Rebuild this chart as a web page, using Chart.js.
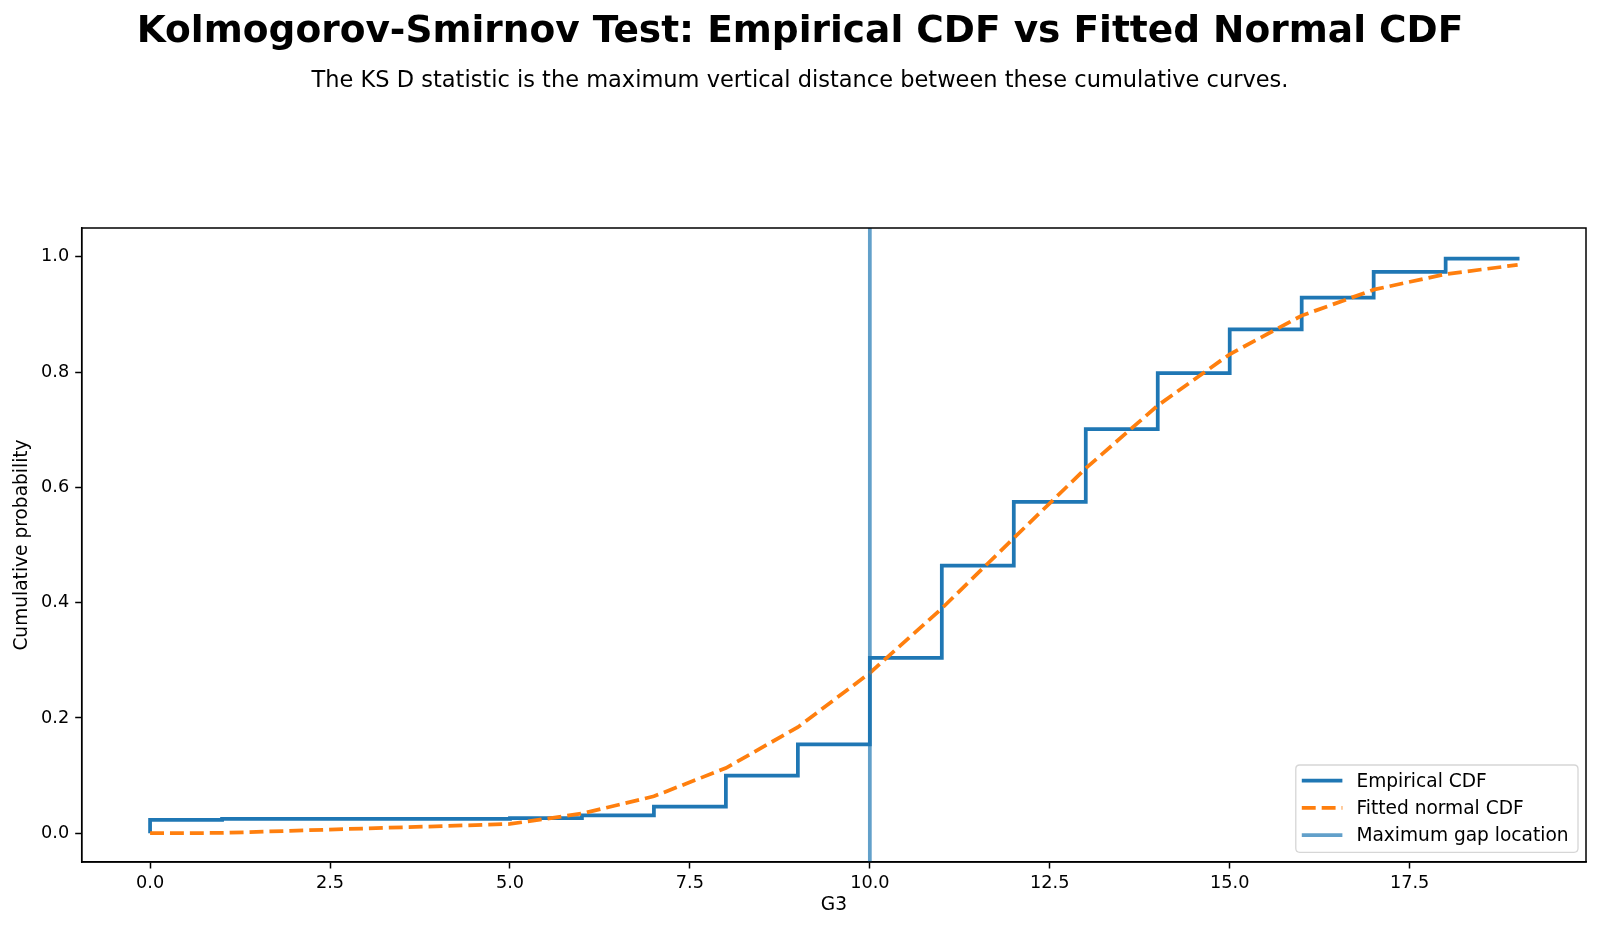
<!DOCTYPE html>
<html>
<head>
<meta charset="utf-8">
<script src="https://cdn.jsdelivr.net/npm/chart.js@4.4.1/dist/chart.umd.min.js"></script>
<style>
  html, body { margin: 0; padding: 0; background: #ffffff; }
  #wrap { width: 1600px; height: 932px; position: relative; }
</style>
</head>
<body>
<div id="wrap"><canvas id="c" width="1600" height="932"></canvas></div>
<script>
// ---- Data ----
const titleText = "Kolmogorov-Smirnov Test: Empirical CDF vs Fitted Normal CDF";
const subtitleText = "The KS D statistic is the maximum vertical distance between these cumulative curves.";

// Empirical CDF (step, post)
const ecdfX = [0, 0, 1, 5, 6, 7, 8, 9, 10, 11, 12, 13, 14, 15, 16, 17, 18, 19];
const ecdfY = [0.0, 0.023, 0.025, 0.026, 0.031, 0.046, 0.100, 0.154, 0.304, 0.464, 0.575, 0.701, 0.798, 0.874, 0.929, 0.974, 0.997, 1.0];

// Fitted normal CDF evaluated at observed grade values
const normX = [0, 1, 5, 6, 7, 8, 9, 10, 11, 12, 13, 14, 15, 16, 17, 18, 19];
const normY = [0.000, 0.0004, 0.016, 0.034, 0.064, 0.113, 0.184, 0.278, 0.390, 0.512, 0.633, 0.742, 0.831, 0.898, 0.943, 0.970, 0.986];

// Location of maximum gap
const gapX = 10;

// Axes
const xTicks = [0, 2.5, 5, 7.5, 10, 12.5, 15, 17.5];
const yTicks = [0, 0.2, 0.4, 0.6, 0.8, 1.0];
const xLimits = [-0.95, 19.95];
const yLimits = [-0.05, 1.05];

const seriesLabels = ["Empirical CDF", "Fitted normal CDF", "Maximum gap location"];
const xLabel = "G3";
const yLabel = "Cumulative probability";

// ---- Styles ----
const FONT = "'DejaVu Sans', 'Liberation Sans', sans-serif";
const BLUE = "#1f77b4";
const ORANGE = "#ff7f0e";
const GAPCOL = "rgba(31,119,180,0.7)";
const LW = 3.75;

const ecdfData = ecdfX.map((x, i) => ({ x: x, y: ecdfY[i] }));
const normData = normX.map((x, i) => ({ x: x, y: normY[i] }));
const gapData = [{ x: gapX, y: yLimits[0] }, { x: gapX, y: yLimits[1] }];

const titlePlugin = {
  id: 'figTitles',
  afterDraw(chart) {
    const ctx = chart.ctx;
    ctx.save();
    ctx.fillStyle = '#000';
    ctx.textAlign = 'center';
    ctx.textBaseline = 'alphabetic';
    ctx.font = "bold 37.5px " + FONT;
    ctx.fillText(titleText, 800, 42.3);
    ctx.font = "22.5px " + FONT;
    ctx.fillText(subtitleText, 800, 87.3);
    ctx.restore();
  }
};

const framePlugin = {
  id: 'frame',
  afterDraw(chart) {
    const a = chart.chartArea;
    const ctx = chart.ctx;
    ctx.save();
    ctx.strokeStyle = '#000';
    ctx.lineWidth = 1.5;
    ctx.strokeRect(a.left, a.top, a.right - a.left, a.bottom - a.top);
    ctx.restore();
  }
};

const legendPlugin = {
  id: 'mplLegend',
  afterDraw(chart) {
    const ctx = chart.ctx;
    const ds = chart.data.datasets;
    const a = chart.chartArea;
    ctx.save();
    ctx.font = "18.6px " + FONT;
    let maxW = 0;
    ds.forEach(d => { maxW = Math.max(maxW, ctx.measureText(d.label).width); });
    const rowH = 27.2;
    const boxW = 60.6 + maxW + 9.4;
    const boxH = 87.3;
    const x0 = a.right - 8 - boxW;
    const y0 = a.bottom - 9.7 - boxH;
    const r = 4;
    ctx.beginPath();
    ctx.moveTo(x0 + r, y0);
    ctx.lineTo(x0 + boxW - r, y0);
    ctx.quadraticCurveTo(x0 + boxW, y0, x0 + boxW, y0 + r);
    ctx.lineTo(x0 + boxW, y0 + boxH - r);
    ctx.quadraticCurveTo(x0 + boxW, y0 + boxH, x0 + boxW - r, y0 + boxH);
    ctx.lineTo(x0 + r, y0 + boxH);
    ctx.quadraticCurveTo(x0, y0 + boxH, x0, y0 + boxH - r);
    ctx.lineTo(x0, y0 + r);
    ctx.quadraticCurveTo(x0, y0, x0 + r, y0);
    ctx.closePath();
    ctx.fillStyle = 'rgba(255,255,255,0.8)';
    ctx.fill();
    ctx.strokeStyle = '#d6d6d6';
    ctx.lineWidth = 1.3;
    ctx.stroke();
    ds.forEach((d, i) => {
      const cy = y0 + 15.7 + i * rowH;
      ctx.beginPath();
      ctx.strokeStyle = d.borderColor;
      ctx.lineWidth = d.borderWidth;
      ctx.setLineDash(d.borderDash || []);
      ctx.moveTo(x0 + 6, cy);
      ctx.lineTo(x0 + 46.6, cy);
      ctx.stroke();
      ctx.setLineDash([]);
      ctx.fillStyle = '#000';
      ctx.textAlign = 'left';
      ctx.textBaseline = 'middle';
      ctx.fillText(d.label, x0 + 60.6, cy + 1);
    });
    ctx.restore();
  }
};

const tickFont = { family: FONT, size: 17.7 };

new Chart(document.getElementById('c'), {
  type: 'line',
  data: {
    datasets: [
      {
        label: seriesLabels[0],
        data: ecdfData,
        borderColor: BLUE,
        borderWidth: LW,
        stepped: 'before',
        pointRadius: 0,
        fill: false,
        order: 2
      },
      {
        label: seriesLabels[1],
        data: normData,
        borderColor: ORANGE,
        borderWidth: LW,
        borderDash: [13.9, 6],
        pointRadius: 0,
        tension: 0,
        fill: false,
        order: 1
      },
      {
        label: seriesLabels[2],
        data: gapData,
        borderColor: GAPCOL,
        borderWidth: LW,
        pointRadius: 0,
        fill: false,
        order: 0
      }
    ]
  },
  options: {
    responsive: false,
    animation: false,
    layout: { padding: { left: 0, right: 14, top: 228, bottom: 0 } },
    plugins: {
      legend: { display: false },
      title: { display: false },
      tooltip: { enabled: false }
    },
    scales: {
      x: {
        type: 'linear',
        min: xLimits[0],
        max: xLimits[1],
        afterBuildTicks(scale) { scale.ticks = xTicks.map(v => ({ value: v })); },
        afterFit(scale) { scale.height = 70; },
        ticks: {
          color: '#000',
          font: tickFont,
          padding: 4,
          maxRotation: 0,
          autoSkip: false,
          callback: v => Number(v).toFixed(1)
        },
        grid: {
          display: true,
          drawOnChartArea: false,
          drawTicks: true,
          tickLength: 6.5,
          tickWidth: 1.5,
          tickColor: '#000'
        },
        border: { display: true, color: '#000', width: 1.5 },
        title: {
          display: true,
          text: xLabel,
          color: '#000',
          font: { family: FONT, size: 18.6 },
          padding: { top: 0, bottom: 15.5 }
        }
      },
      y: {
        type: 'linear',
        min: yLimits[0],
        max: yLimits[1],
        afterBuildTicks(scale) { scale.ticks = yTicks.map(v => ({ value: v })); },
        afterFit(scale) { scale.width = 81.7; },
        ticks: {
          color: '#000',
          font: tickFont,
          padding: 6,
          autoSkip: false,
          callback: v => Number(v).toFixed(1)
        },
        grid: {
          display: true,
          drawOnChartArea: false,
          drawTicks: true,
          tickLength: 6.5,
          tickWidth: 1.5,
          tickColor: '#000'
        },
        border: { display: true, color: '#000', width: 1.5 },
        title: {
          display: true,
          text: yLabel,
          color: '#000',
          font: { family: FONT, size: 18.6 },
          padding: { top: 11, bottom: 0 }
        }
      }
    }
  },
  plugins: [titlePlugin, framePlugin, legendPlugin]
});
</script>
</body>
</html>
